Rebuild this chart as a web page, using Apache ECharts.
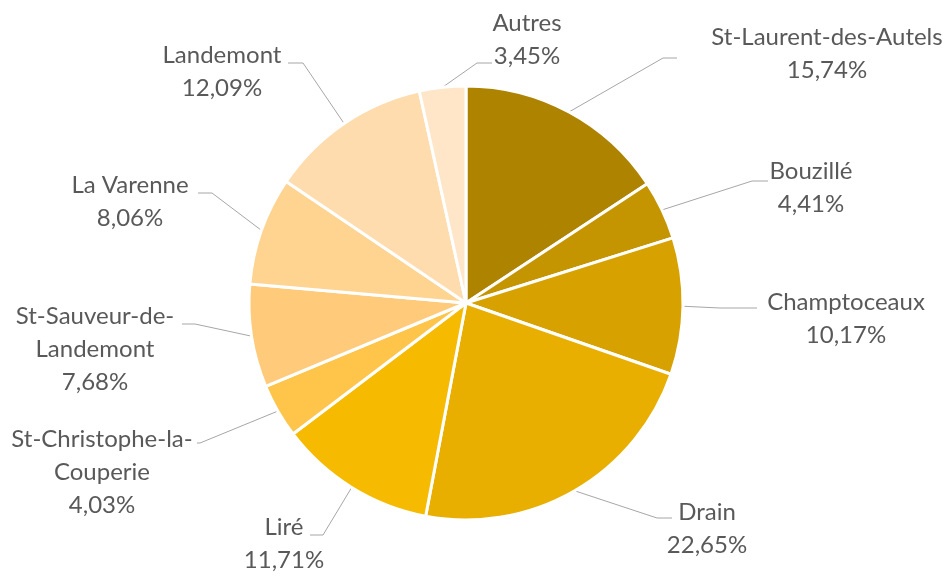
<!DOCTYPE html>
<html>
<head>
<meta charset="utf-8">
<script src="https://cdn.jsdelivr.net/npm/echarts@6/dist/echarts.min.js"></script>
<style>
  html, body { margin: 0; padding: 0; background: #fff; }
  #chart { width: 952px; height: 576px; }
</style>
</head>
<body>
<div id="chart"></div>
<script>
// communes et parts (%)
const communes = ['St-Laurent-des-Autels', 'Bouzillé', 'Champtoceaux', 'Drain', 'Liré',
  'St-Christophe-la-\nCouperie', 'St-Sauveur-de-\nLandemont', 'La Varenne', 'Landemont', 'Autres'];
const parts = [15.74, 4.41, 10.17, 22.65, 11.71, 4.03, 7.68, 8.06, 12.09, 3.45];
const couleurs = ['#ad8300', '#c59500', '#d7a100', '#e8ae00', '#f6bb00',
  '#ffc54a', '#ffcb7a', '#ffd390', '#ffdcae', '#ffe6c8'];

// placement des étiquettes (centre du bloc texte) et des traits de rappel
const labelCenters = [[827, 54], [811, 188], [846, 319], [707, 529], [284, 544],
  [102, 472], [95, 349], [130, 202], [222, 72], [527, 40]];
const lineElbows = [[663, 58], [752, 181], [720, 308], [657, 518], [323, 535],
  [200, 443], [195, 324], [212, 193], [303, 63], [477, 63]];
const lineEnds = [[677, 58], [768, 181], [757, 308], [672, 518], [310, 535],
  [197, 443], [182, 324], [198, 193], [288, 63], [492, 63]];

const cx = 466, cy = 303, r = 217;

const myChart = echarts.init(document.getElementById('chart'));

const option = {
  animation: false,
  series: [{
    type: 'pie',
    center: [cx, cy],
    radius: r,
    startAngle: 90,
    clockwise: true,
    itemStyle: {
      borderColor: '#ffffff',
      borderWidth: 3
    },
    label: {
      show: true,
      position: 'outside',
      fontFamily: 'Lato',
      fontSize: 24,
      lineHeight: 33,
      color: '#595959',
      align: 'center',
      formatter: (p) => p.name + '\n' + p.value.toFixed(2).replace('.', ',') + '%'
    },
    labelLine: {
      show: true,
      lineStyle: { color: '#a6a6a6', width: 1 }
    },
    labelLayout: (params) => {
      const i = params.dataIndex;
      let start = params.labelLinePoints && params.labelLinePoints[0];
      if (!start) {
        // milieu de l'arc
        let acc = 0;
        for (let k = 0; k < i; k++) acc += parts[k];
        const a = (acc + parts[i] / 2) / 100 * Math.PI * 2;
        start = [cx + r * Math.sin(a), cy - r * Math.cos(a)];
      }
      return {
        x: labelCenters[i][0],
        y: labelCenters[i][1],
        align: 'center',
        verticalAlign: 'middle',
        labelLinePoints: [start, lineElbows[i], lineEnds[i]]
      };
    },
    data: communes.map((name, i) => ({
      name,
      value: parts[i],
      itemStyle: { color: couleurs[i] }
    }))
  }]
};

myChart.setOption(option);
</script>
</body>
</html>
